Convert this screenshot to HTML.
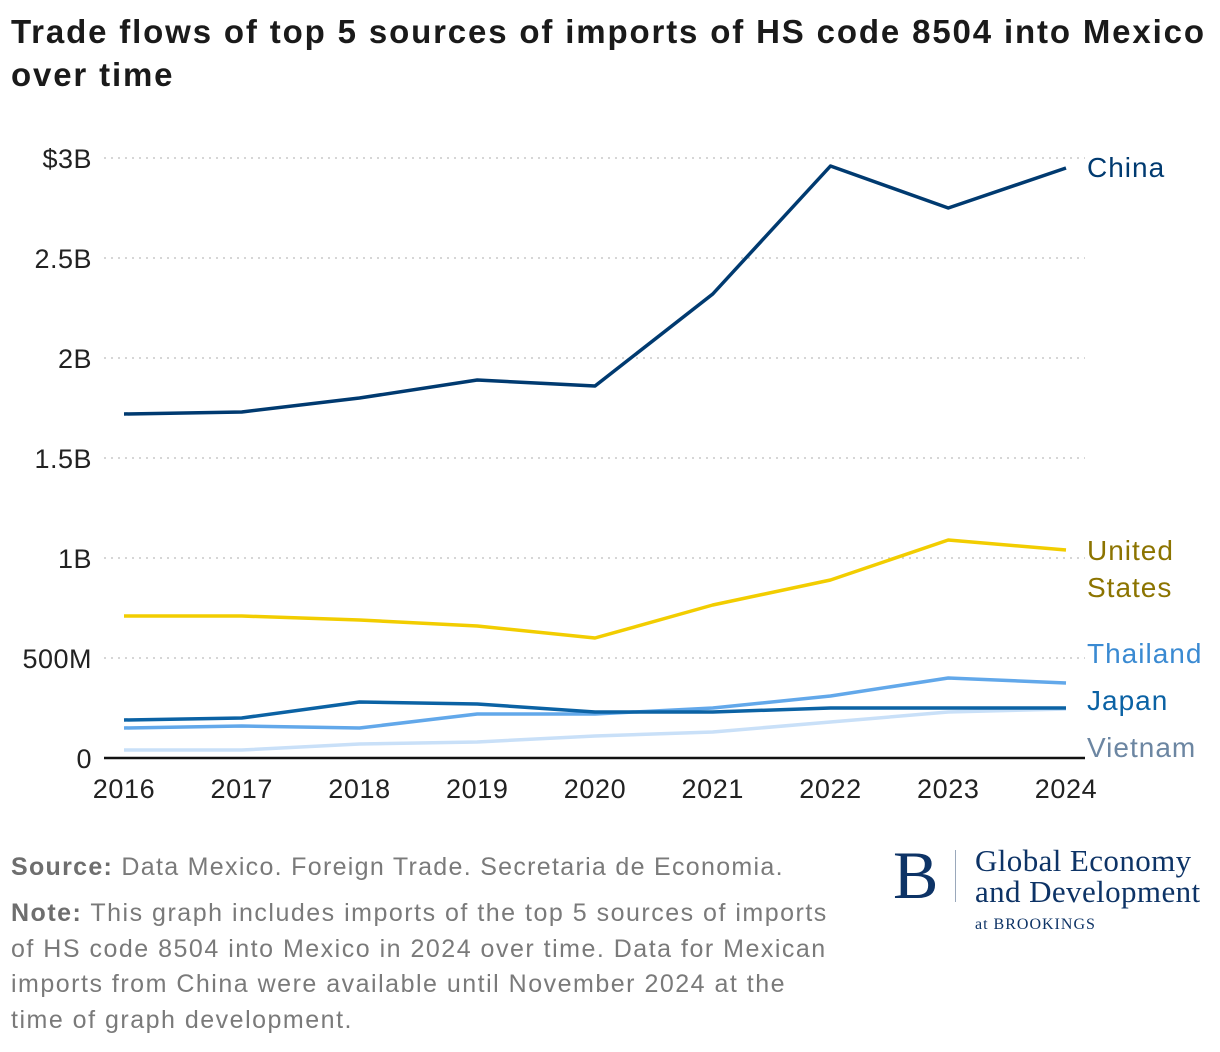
<!DOCTYPE html>
<html><head><meta charset="utf-8"><style>
body{margin:0;background:#fff;font-family:"Liberation Sans",sans-serif;}
#wrap{position:relative;width:1220px;height:1052px;overflow:hidden;}
h1{position:absolute;left:11px;top:10px;margin:0;font-size:33px;line-height:43px;font-weight:bold;color:#1a1a1a;white-space:nowrap;letter-spacing:1.85px}
.foot{position:absolute;left:11px;color:#7a7a7a;font-size:25px;line-height:35.5px;letter-spacing:1.5px;white-space:nowrap}
.foot b{color:#6e6e6e}
</style></head><body>
<div id="wrap">
<h1>Trade flows of top 5 sources of imports of HS code 8504 into Mexico<br>over time</h1>
<svg id="chart" width="1220" height="820" style="position:absolute;left:0;top:0"></svg>
<div class="foot" style="top:850px;letter-spacing:1.3px"><b>Source:</b> Data Mexico. Foreign Trade. Secretaria de Economia.</div>
<div class="foot" style="top:896px"><b>Note:</b> This graph includes imports of the top 5 sources of imports<br>of HS code 8504 into Mexico in 2024 over time. Data for Mexican<br>imports from China were available until November 2024 at the<br>time of graph development.</div>
<div style="position:absolute;left:893px;top:840px;width:327px;height:100px;font-family:'Liberation Serif',serif;color:#0d3366">
<div style="position:absolute;left:0;top:0;font-size:68px;line-height:70px">B</div>
<div style="position:absolute;left:62px;top:10px;width:1px;height:52px;background:#9aa8bb"></div>
<div style="position:absolute;left:82px;top:5px;font-size:31px;line-height:31px;white-space:nowrap;letter-spacing:0.4px">Global Economy<br>and Development</div>
<div style="position:absolute;left:82px;top:76px;font-size:16px;letter-spacing:1px">at BROOKINGS</div>
</div>
</div>
<script>
const years=[2016,2017,2018,2019,2020,2021,2022,2023,2024];
const china=[1.72,1.73,1.80,1.89,1.86,2.32,2.96,2.75,2.95];
const usa=[0.71,0.71,0.69,0.66,0.60,0.765,0.89,1.09,1.04];
const thailand=[0.15,0.16,0.15,0.22,0.22,0.25,0.31,0.40,0.375];
const japan=[0.19,0.20,0.28,0.27,0.23,0.23,0.25,0.25,0.25];
const vietnam=[0.04,0.04,0.07,0.08,0.11,0.13,0.18,0.23,0.245];
const yTicks=[0,0.5,1,1.5,2,2.5,3];
const yTickLabels=["0","500M","1B","1.5B","2B","2.5B","$3B"];
const NS="http://www.w3.org/2000/svg";
const svg=document.getElementById('chart');
const x=y=>124+(y-2016)*(1066-124)/8;
const yv=v=>758-v*200;
function mk(t,a){const e=document.createElementNS(NS,t);for(const k in a)e.setAttribute(k,a[k]);svg.appendChild(e);return e;}
yTicks.forEach((t,i)=>{
 if(t>0){const g=mk('line',{x1:104,x2:1085,y1:yv(t),y2:yv(t),stroke:'#c8c8c8','stroke-width':1.5,'stroke-dasharray':'2 5'});
 
 }
 const l=mk('text',{x:92,y:yv(t)+10,'text-anchor':'end','font-size':27,'letter-spacing':0.5,fill:'#222'});l.textContent=yTickLabels[i];
 
 
});
const ax=mk('line',{x1:104,x2:1085,y1:758,y2:758,stroke:'#111','stroke-width':2.5});


years.forEach(yr=>{const t=mk('text',{x:x(yr),y:798,'text-anchor':'middle','font-size':27,'letter-spacing':0.6,fill:'#222'});t.textContent=yr;
 
 });
const series=[
 {n:'vietnam',d:vietnam,c:'#c9e0f8',lc:'#6c86a2',lab:['Vietnam'],ly:[757]},
 {n:'thailand',d:thailand,c:'#62a8ea',lc:'#3a8ad2',lab:['Thailand'],ly:[663]},
 {n:'japan',d:japan,c:'#0b62a4',lc:'#0b62a4',lab:['Japan'],ly:[710]},
 {n:'united-states',d:usa,c:'#f2cd00',lc:'#8c7400',lab:['United','States'],ly:[560,597]},
 {n:'china',d:china,c:'#003a70',lc:'#003a70',lab:['China'],ly:[177]}];
series.forEach(s=>{
 const p=mk('polyline',{points:s.d.map((v,i)=>x(years[i])+','+yv(v)).join(' '),fill:'none',stroke:s.c,'stroke-width':3.5,'stroke-linejoin':'round'});
 
 
 s.lab.forEach((t,i)=>{const l=mk('text',{x:1087,y:s.ly[i],'font-size':28,'letter-spacing':1,fill:s.lc});l.textContent=t;
  
  });
});
</script>
</body></html>
